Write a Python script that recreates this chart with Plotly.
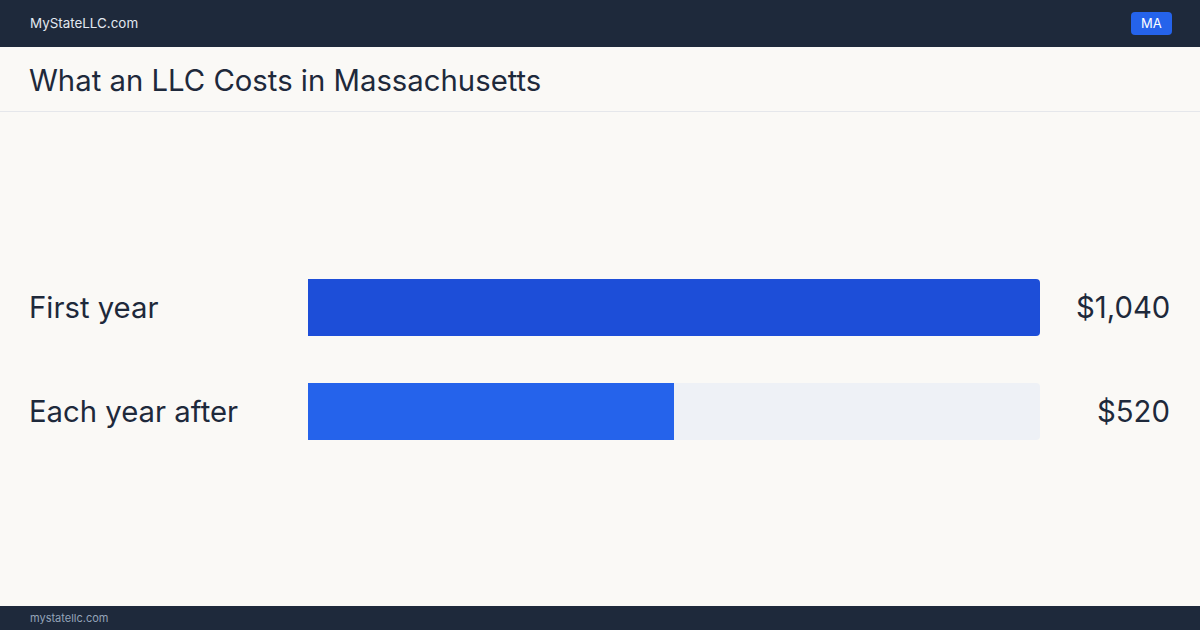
import plotly.graph_objects as go

categories = ["First year", "Each year after"]
values = [1040, 520]
value_labels = ["$1,040", "$520"]
track_max = 1040

W, H = 1200, 630
BG = "#faf9f6"
DARK = "#1e293b"
bar_colors = ["#1d4ed8", "#2563eb"]
FONT = "Inter, 'Noto Sans', sans-serif"

def px_x(x):
    return x / W

def px_y(y):
    return 1 - y / H

fig = go.Figure()

# track bars
fig.add_trace(go.Bar(
    y=categories, x=[track_max] * len(categories), orientation="h",
    marker=dict(color="#eef1f6", line=dict(width=0)),
    width=0.548, hoverinfo="skip", showlegend=False,
))
# value bars
fig.add_trace(go.Bar(
    y=categories, x=values, orientation="h",
    marker=dict(color=bar_colors, line=dict(width=0)),
    width=0.548, showlegend=False,
))

def rounded_rect(x0, y0, x1, y1, r):
    # pixel coords, converted to paper
    X = lambda v: px_x(v)
    Y = lambda v: px_y(v)
    return (f"M {X(x0+r)} {Y(y0)} L {X(x1-r)} {Y(y0)} Q {X(x1)} {Y(y0)} {X(x1)} {Y(y0+r)} "
            f"L {X(x1)} {Y(y1-r)} Q {X(x1)} {Y(y1)} {X(x1-r)} {Y(y1)} "
            f"L {X(x0+r)} {Y(y1)} Q {X(x0)} {Y(y1)} {X(x0)} {Y(y1-r)} "
            f"L {X(x0)} {Y(y0+r)} Q {X(x0)} {Y(y0)} {X(x0+r)} {Y(y0)} Z")

shapes = [
    dict(type="rect", xref="paper", yref="paper", x0=0, x1=1, y0=px_y(47), y1=1,
         fillcolor=DARK, line=dict(width=0), layer="below"),
    dict(type="rect", xref="paper", yref="paper", x0=0, x1=1, y0=0, y1=px_y(606),
         fillcolor=DARK, line=dict(width=0), layer="below"),
    dict(type="line", xref="paper", yref="paper", x0=0, x1=1, y0=px_y(111.5), y1=px_y(111.5),
         line=dict(color="#e5e7eb", width=1)),
    dict(type="path", xref="paper", yref="paper", path=rounded_rect(1131, 12, 1172, 35, 4),
         fillcolor="#2563eb", line=dict(width=0)),
]

annotations = [
    dict(text="MyStateLLC.com", x=px_x(28), y=px_y(23.5), xref="paper", yref="paper",
         xanchor="left", yanchor="middle", showarrow=False,
         font=dict(family=FONT, size=13.4, color="#e2e8f0")),
    dict(text="MA", x=px_x(1151.5), y=px_y(23.5), xref="paper", yref="paper",
         xanchor="center", yanchor="middle", showarrow=False,
         font=dict(family=FONT, size=13, color="#ffffff")),
    dict(text="What an LLC Costs in Massachusetts", x=px_x(27), y=px_y(81), xref="paper", yref="paper",
         xanchor="left", yanchor="middle", showarrow=False,
         font=dict(family=FONT, size=29.3, color=DARK)),
    dict(text="mystatellc.com", x=px_x(28), y=px_y(618), xref="paper", yref="paper",
         xanchor="left", yanchor="middle", showarrow=False,
         font=dict(family=FONT, size=11, color="#94a3b8")),
]
for cat, lab in zip(categories, value_labels):
    annotations.append(dict(text=cat, x=px_x(27), y=cat, xref="paper", yref="y",
                            xanchor="left", yanchor="middle", showarrow=False,
                            font=dict(family=FONT, size=29.3, color=DARK)))
    annotations.append(dict(text=lab, x=px_x(1172), y=cat, xref="paper", yref="y",
                            xanchor="right", yanchor="middle", showarrow=False,
                            font=dict(family=FONT, size=29.3, color=DARK)))

fig.update_layout(
    width=W, height=H,
    margin=dict(l=0, r=0, t=0, b=0),
    paper_bgcolor=BG, plot_bgcolor="rgba(0,0,0,0)",
    barmode="overlay", barcornerradius=4,
    xaxis=dict(domain=[px_x(308), px_x(1040)], range=[0, track_max],
               visible=False, fixedrange=True),
    yaxis=dict(domain=[px_y(463.5), px_y(255.5)], range=[1.5, -0.5],
               visible=False, fixedrange=True, categoryorder="array", categoryarray=categories),
    shapes=shapes, annotations=annotations,
    font=dict(family=FONT),
)

fig.write_html("out.html", config={"displayModeBar": False},
               post_script="document.body.style.margin='0';document.body.style.background='" + BG + "';")
